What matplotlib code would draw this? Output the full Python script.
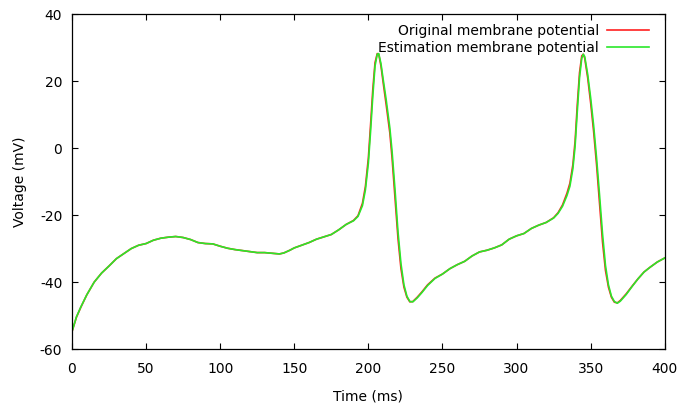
import matplotlib
matplotlib.use("Agg")
import matplotlib.pyplot as plt

# time (ms) and membrane potential (mV)
time_ms = [0, 3, 6, 10, 15, 20, 25, 30, 35, 40, 45, 50, 55, 60, 65, 70, 75, 80, 85, 90,
           95, 100, 105, 110, 115, 120, 125, 130, 135, 140, 143, 147, 150, 155, 160, 165,
           170, 175, 180, 185, 190, 193, 196, 198, 200, 201.5, 203, 204.5, 206, 207, 208.5,
           210, 212, 214.5, 216, 218, 220, 222, 224, 226, 228, 230, 233, 236, 240, 245, 250,
           255, 260, 265, 270, 275, 280, 285, 290, 295, 300, 305, 310, 315, 320, 325, 328,
           331, 334, 336, 338, 339.5, 341, 342.5, 344, 345, 346, 348, 350, 352, 354, 356,
           358, 360, 362, 364, 366, 368, 370, 374, 378, 382, 386, 390, 395, 400]

original_v = [-54.8, -50.5, -47.5, -43.8, -40.0, -37.3, -35.2, -33.0, -31.5, -30.0, -29.0,
              -28.5, -27.5, -26.9, -26.6, -26.4, -26.7, -27.3, -28.2, -28.5, -28.6, -29.3,
              -29.9, -30.3, -30.6, -30.9, -31.2, -31.2, -31.4, -31.6, -31.3, -30.5, -29.8,
              -29.0, -28.2, -27.2, -26.5, -25.8, -24.4, -22.8, -21.6, -20.2, -16.5, -11.5,
              -3.0, 7.0, 17.5, 25.5, 28.2, 28.0, 24.5, 19.5, 13.0, 4.5, -3.0, -15.0, -27.0,
              -36.0, -41.5, -44.5, -45.9, -45.8, -44.5, -43.0, -40.8, -38.8, -37.6, -36.0,
              -34.8, -33.8, -32.2, -31.0, -30.5, -29.8, -28.9, -27.2, -26.2, -25.5, -24.0,
              -23.0, -22.2, -20.8, -19.3, -17.0, -13.5, -10.5, -5.0, 2.0, 13.0, 22.5, 27.5,
              28.0, 26.8, 21.0, 13.5, 5.0, -5.0, -16.5, -28.0, -36.5, -41.5, -44.5, -46.0,
              -46.2, -45.5, -43.5, -41.2, -39.0, -37.0, -35.6, -34.0, -32.8]

estimated_v = [-54.8, -50.4, -47.4, -43.8, -40.0, -37.3, -35.2, -33.0, -31.5, -30.0, -29.0,
               -28.5, -27.5, -26.9, -26.6, -26.4, -26.7, -27.3, -28.2, -28.5, -28.6, -29.3,
               -29.9, -30.3, -30.6, -30.9, -31.2, -31.2, -31.4, -31.6, -31.3, -30.5, -29.8,
               -29.0, -28.2, -27.2, -26.5, -25.8, -24.4, -22.8, -21.7, -20.4, -17.2, -12.5,
               -4.5, 5.0, 15.5, 24.5, 28.0, 28.2, 25.2, 20.5, 14.5, 6.0, -1.0, -12.5, -25.0,
               -34.5, -40.8, -44.2, -45.8, -45.9, -44.7, -43.2, -41.0, -38.9, -37.6, -36.0,
               -34.8, -33.8, -32.2, -31.0, -30.5, -29.8, -28.9, -27.2, -26.2, -25.5, -24.0,
               -23.0, -22.2, -20.9, -19.5, -17.4, -14.2, -11.4, -6.2, 0.5, 11.0, 21.0, 26.8,
               28.0, 27.3, 22.0, 15.0, 6.8, -3.0, -14.0, -25.5, -35.0, -40.8, -44.2, -45.8,
               -46.3, -45.7, -43.7, -41.3, -39.0, -37.0, -35.6, -34.0, -32.8]

plt.rcParams["font.family"] = "DejaVu Sans"
plt.rcParams["font.size"] = 10
plt.rcParams["axes.unicode_minus"] = False

fig = plt.figure(figsize=(6.79, 4.05), dpi=100)
ax = fig.add_axes([0.106, 0.138, 0.873, 0.8274])

ax.plot(time_ms, original_v, color="#ff2020", lw=1.2, label="Original membrane potential")
ax.plot(time_ms, estimated_v, color="#2ae82a", lw=1.2, label="Estimation membrane potential")

ax.set_xlim(0, 400)
ax.set_ylim(-60, 40)
ax.set_xticks(range(0, 401, 50))
ax.set_yticks(range(-60, 41, 20))
ax.tick_params(direction="in", top=True, right=True, length=4, width=0.8,
               labelsize=10, color="black")
ax.tick_params(axis="x", pad=9)
ax.tick_params(axis="y", pad=7)
for s in ax.spines.values():
    s.set_linewidth(0.9)

ax.set_xlabel("Time (ms)", labelpad=10)
ax.set_ylabel("Voltage (mV)", labelpad=9)

ax.legend(loc="upper right", frameon=False, markerfirst=False, handlelength=3.0,
          labelspacing=0.25, borderaxespad=0.3, handletextpad=0.6,
          bbox_to_anchor=(0.99, 1.0))

plt.savefig("out.png", dpi=100)
